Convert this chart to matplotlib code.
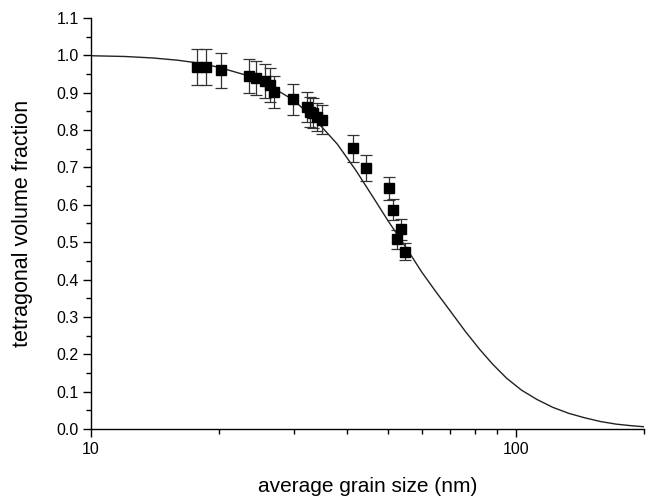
"""Tetragonal volume fraction vs average grain size (log x), with model curve."""
import matplotlib

matplotlib.use("Agg")
import matplotlib.pyplot as plt
from matplotlib.ticker import FixedLocator, NullFormatter, MultipleLocator

plt.rcParams["font.family"] = ["Liberation Sans", "DejaVu Sans"]

grain_nm = [17.8, 18.6, 20.2, 23.5, 24.4, 25.7, 26.3, 26.9, 29.8, 32.2, 32.8,
            33.3, 34.1, 34.9, 41.4, 44.4, 50.2, 51.3, 53.5, 52.6, 54.9]
frac = [0.969, 0.969, 0.960, 0.945, 0.940, 0.931, 0.920, 0.902, 0.882, 0.862,
        0.848, 0.845, 0.835, 0.828, 0.751, 0.699, 0.644, 0.587, 0.534, 0.508,
        0.475]
frac_err = [0.048, 0.048, 0.047, 0.046, 0.046, 0.045, 0.045, 0.042, 0.042, 0.040,
            0.040, 0.040, 0.038, 0.038, 0.036, 0.034, 0.031, 0.028, 0.027, 0.025,
            0.024]

# model curve
curve_nm = [10, 12, 14, 16, 18, 20, 23, 26, 30, 34, 38, 42, 46, 50, 55, 60, 65,
            70, 76, 82, 88, 95, 103, 112, 122, 133, 145, 158, 172, 186, 200]
curve_frac = [0.999, 0.997, 0.993, 0.987, 0.979, 0.968, 0.948, 0.922, 0.880,
              0.823, 0.762, 0.692, 0.622, 0.557, 0.487, 0.420, 0.365, 0.316,
              0.261, 0.214, 0.174, 0.136, 0.104, 0.079, 0.058, 0.042, 0.030,
              0.020, 0.013, 0.009, 0.006]

fig = plt.figure(figsize=(6.49, 4.98), dpi=100)
ax = fig.add_axes([91 / 649, 1 - 429 / 498, (644 - 91) / 649, (429 - 18) / 498])

ax.plot(curve_nm, curve_frac, color="#222222", lw=1.0)
ax.errorbar(grain_nm, frac, yerr=frac_err, fmt="s", color="black", ms=7,
            ecolor="#333333", elinewidth=0.9, capsize=4.5, capthick=0.9)

ax.set_xscale("log")
ax.set_xlim(10, 200)
ax.set_ylim(0, 1.1)
ax.xaxis.set_major_locator(FixedLocator([10, 100]))
ax.xaxis.set_minor_locator(FixedLocator([20, 30, 40, 50, 60, 70, 80, 90, 200]))
ax.xaxis.set_minor_formatter(NullFormatter())
ax.set_xticklabels(["10", "100"])
ax.yaxis.set_major_locator(MultipleLocator(0.1))
ax.yaxis.set_minor_locator(MultipleLocator(0.05))
ax.yaxis.set_major_formatter(plt.FuncFormatter(lambda v, p: f"{v:.1f}"))

for s in ("top", "right"):
    ax.spines[s].set_visible(False)
for s in ("left", "bottom"):
    ax.spines[s].set_linewidth(1.0)
ax.tick_params(which="major", direction="out", length=6, width=1.0,
               labelsize=11.5, pad=3)
ax.tick_params(which="minor", direction="out", length=3.5, width=1.0)

ax.set_xlabel("average grain size (nm)", fontsize=15, labelpad=15)
ax.set_ylabel("tetragonal volume fraction", fontsize=15.5, labelpad=17)

fig.savefig("out.png", dpi=100)
